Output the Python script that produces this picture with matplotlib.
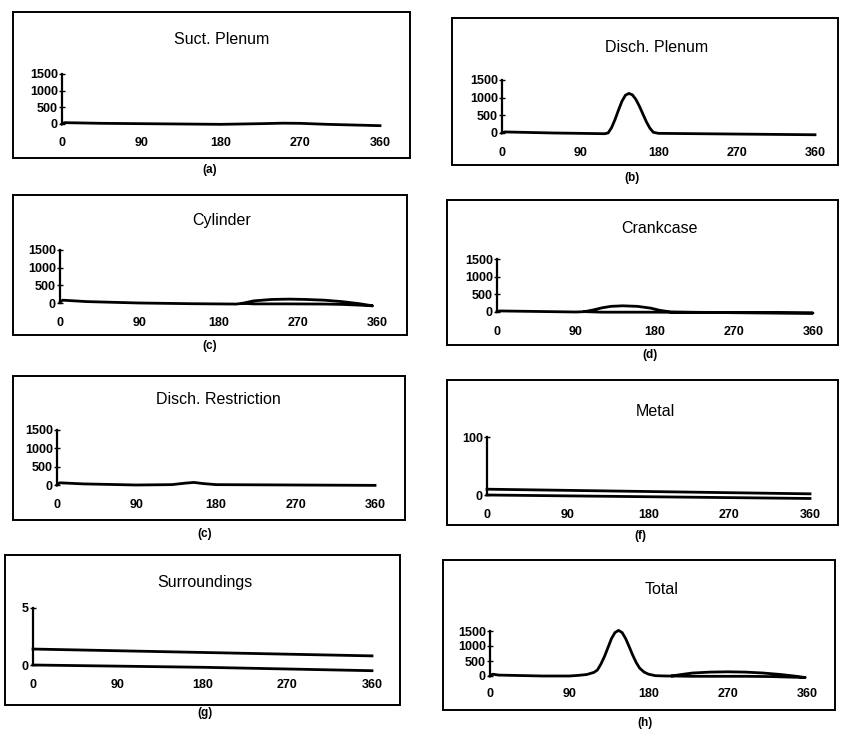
import numpy as np
import matplotlib.pyplot as plt
from matplotlib.patches import Rectangle

plt.rcParams['font.family'] = ['Liberation Sans', 'DejaVu Sans']

W, H = 841, 730

ticks_x = [0, 90, 180, 270, 360]

# (a) Suct. Plenum
suct_x = [0, 3, 45, 90, 135, 180, 225, 250, 270, 300, 330, 360]
suct_y = [0, 40, 20, 10, 0, -10, 10, 25, 20, -10, -30, -50]

# (b) Disch. Plenum
dplen_x = [0, 3, 60, 90, 118, 122, 126, 130, 134, 138, 142, 146, 150, 154, 158, 162, 166, 170, 174, 180, 270, 360]
dplen_y = [0, 30, 0, -10, -20, 0, 150, 380, 650, 900, 1070, 1120, 1080, 950, 760, 540, 320, 140, 20, -10, -30, -50]

# (c) Cylinder
cyl_x = [0, 3, 30, 90, 150, 200, 207, 220, 240, 260, 280, 300, 320, 340, 355,
         340, 320, 300, 260, 220, 207]
cyl_y = [20, 80, 40, 0, -20, -30, -10, 60, 100, 110, 100, 80, 40, -20, -80,
         -60, -40, -30, -25, -25, -10]

# (d) Crankcase
crank_x = [0, 3, 90, 100, 110, 120, 130, 143, 160, 175, 185, 198, 270, 360,
           180, 150, 120, 100]
crank_y = [10, 30, 0, 10, 60, 120, 160, 175, 160, 110, 50, 0, -20, -30,
           -5, -5, -5, 10]

# (e) Disch. Restriction
drest_x = [0, 3, 30, 90, 130, 145, 155, 165, 180, 270, 360]
drest_y = [0, 60, 30, 0, 10, 50, 70, 40, 10, 0, -10]

# (f) Metal
metal_x = [0, 90, 180, 270, 360]
metal_hi = [10, 8, 6, 4, 2]
metal_lo = [0, -1.5, -3, -4.5, -6]

# (g) Surroundings
surr_x = [0, 90, 180, 270, 360]
surr_hi = [1.4, 1.25, 1.1, 0.95, 0.8]
surr_lo = [0, -0.1, -0.2, -0.35, -0.5]

# (h) Total
tot_x = [0, 3, 10, 60, 90, 100, 110, 118, 122, 126, 130, 134, 138, 142, 146, 150, 154,
         158, 162, 166, 170, 175, 180, 188, 200, 207, 215, 230, 250, 270, 290, 310,
         330, 345, 358, 345, 320, 290, 260, 230, 207]
tot_y = [0, 60, 30, 0, 0, 20, 50, 120, 200, 400, 650, 950, 1250, 1450, 1520, 1450, 1250,
         980, 700, 450, 260, 130, 60, 10, 0, 0, 40, 100, 130, 140, 130, 100,
         50, 0, -50, -40, -20, -10, -10, -10, 0]


def fx(x):
    return x / W


def fy(y):
    return 1 - y / H


def panel(fig, box, ax_px, top, yticks, title, t_px, cap, c_px, series):
    x0, y0, x1, y1 = box
    fig.add_artist(Rectangle((fx(x0), fy(y1)), fx(x1 - x0), (y1 - y0) / H,
                             transform=fig.transFigure, fill=False, lw=1.4, ec='black'))
    fig.text(fx(t_px[0]), fy(t_px[1]), title, ha='center', va='center', fontsize=11.5)
    fig.text(fx(c_px[0]), fy(c_px[1]), cap, ha='center', va='center', fontsize=8.5, fontweight='bold')

    left, right, ytop, yzero = ax_px
    ppu = (yzero - ytop) / top
    lo, hi = -0.15 * top, 1.08 * top
    ax_top = ytop - (hi - top) * ppu
    ax_bot = yzero + (-lo) * ppu
    ax = fig.add_axes([fx(left), fy(ax_bot), (right - left) / W, (ax_bot - ax_top) / H])
    ax.set_xlim(0, 360)
    ax.set_ylim(lo, hi)
    for xs, ys in series:
        ax.plot(xs, ys, color='black', lw=2.0, clip_on=False)
    for s in ['top', 'right', 'bottom']:
        ax.spines[s].set_visible(False)
    ax.spines['left'].set_bounds(0, top)
    ax.spines['left'].set_linewidth(1.6)
    ax.set_yticks(yticks)
    ax.set_xticks(ticks_x)
    ax.tick_params(axis='y', direction='inout', length=4, width=1, pad=1, labelsize=9)
    ax.tick_params(axis='x', length=0, pad=4, labelsize=9)
    for lab in ax.get_xticklabels() + ax.get_yticklabels():
        lab.set_fontweight('bold')
    ax.patch.set_alpha(0)
    return ax


def main():
    fig = plt.figure(figsize=(8.41, 7.3), dpi=100)
    big = [0, 500, 1000, 1500]

    panel(fig, (13, 12, 410, 158), (62, 380, 74, 124), 1500, big,
          "Suct. Plenum", (222, 40), "(a)", (210, 170), [(suct_x, suct_y)])
    panel(fig, (452, 18, 838, 165), (502, 815, 80, 133), 1500, big,
          "Disch. Plenum", (657, 48), "(b)", (632, 178), [(dplen_x, dplen_y)])
    panel(fig, (13, 195, 407, 335), (60, 377, 250, 303), 1500, big,
          "Cylinder", (222, 220), "(c)", (210, 346), [(cyl_x, cyl_y)])
    panel(fig, (447, 200, 838, 345), (497, 813, 259, 312), 1500, big,
          "Crankcase", (660, 228), "(d)", (650, 355), [(crank_x, crank_y)])
    panel(fig, (13, 376, 405, 520), (57, 375, 430, 485), 1500, big,
          "Disch. Restriction", (218, 400), "(c)", (205, 534), [(drest_x, drest_y)])
    panel(fig, (447, 380, 838, 525), (487, 810, 437, 495), 100, [0, 100],
          "Metal", (655, 412), "(f)", (640, 536), [(metal_x, metal_hi), (metal_x, metal_lo)])
    panel(fig, (5, 555, 400, 705), (33, 372, 608, 665), 5, [0, 5],
          "Surroundings", (205, 583), "(g)", (205, 713), [(surr_x, surr_hi), (surr_x, surr_lo)])
    panel(fig, (443, 560, 835, 710), (490, 807, 631, 676), 1500, big,
          "Total", (662, 590), "(h)", (645, 723), [(tot_x, tot_y)])

    fig.savefig("out.png", dpi=100)


if __name__ == '__main__':
    main()
